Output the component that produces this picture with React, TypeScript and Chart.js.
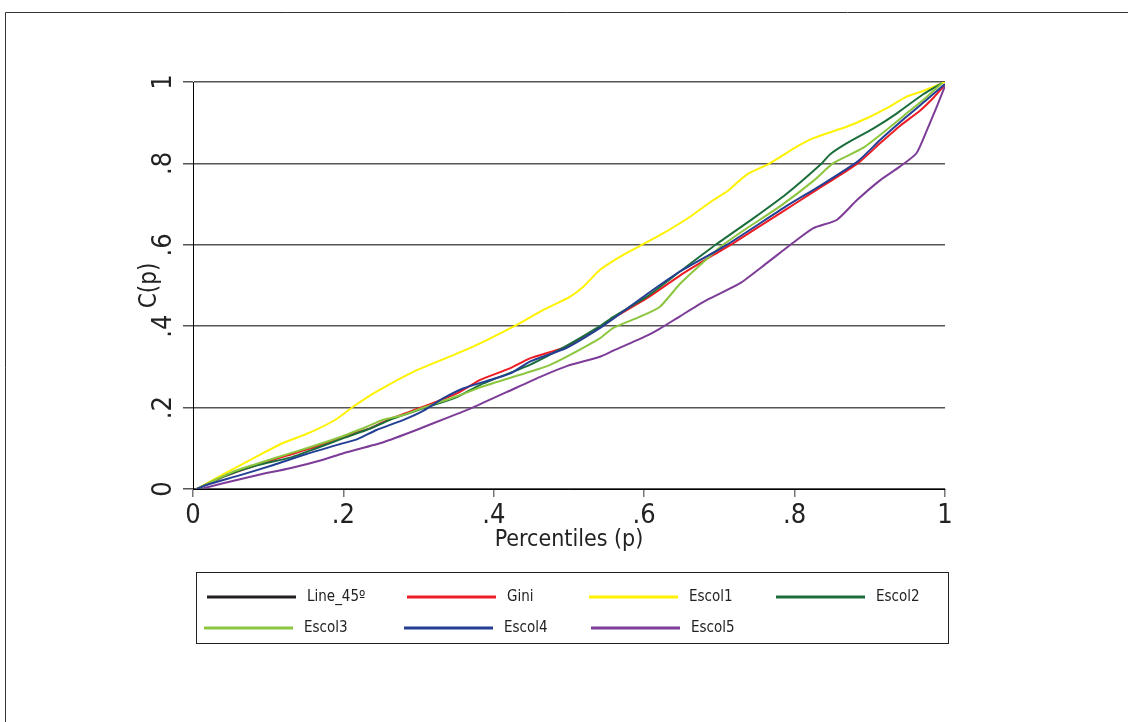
import React, { useEffect, useRef } from "react";
import { Chart, registerables } from "chart.js";

Chart.register(...registerables);

const FONT = '"Liberation Sans Narrow", "Arial Narrow", "DejaVu Sans Condensed", sans-serif';

const seriesLabels = ["Line_45º", "Gini", "Escol1", "Escol2", "Escol3", "Escol4", "Escol5"];
const seriesColors = ["#231f20", "#ed1c24", "#fff200", "#1b6e3c", "#8cc63f", "#233f94", "#7d3c98"];

const xTickValues = [0, 0.2, 0.4, 0.6, 0.8, 1];
const xTickLabels = ["0", ".2", ".4", ".6", ".8", "1"];
const yTickValues = [0, 0.2, 0.4, 0.6, 0.8, 1];
const yTickLabels = ["0", ".2", ".4", ".6", ".8", "1"];

const line45P: number[] = [];
const line45C: number[] = [];

const giniP = [0.005, 0.04, 0.085, 0.125, 0.164, 0.2, 0.235, 0.262, 0.306, 0.351, 0.382, 0.422, 0.448, 0.497, 0.541, 0.559, 0.603, 0.648, 0.692, 0.715, 0.781, 0.825, 0.884, 0.914, 0.94, 0.967, 0.985, 1];
const giniC = [0, 0.03, 0.059, 0.082, 0.104, 0.129, 0.149, 0.172, 0.202, 0.235, 0.268, 0.297, 0.321, 0.35, 0.398, 0.42, 0.468, 0.525, 0.575, 0.6, 0.678, 0.73, 0.8, 0.85, 0.892, 0.93, 0.962, 0.993];

const escol1P = [0.005, 0.04, 0.085, 0.116, 0.156, 0.191, 0.213, 0.244, 0.293, 0.368, 0.426, 0.466, 0.501, 0.519, 0.541, 0.568, 0.594, 0.625, 0.661, 0.692, 0.71, 0.736, 0.767, 0.803, 0.825, 0.869, 0.896, 0.922, 0.949, 0.971, 1];
const escol1C = [0, 0.036, 0.08, 0.11, 0.139, 0.172, 0.202, 0.239, 0.288, 0.346, 0.399, 0.44, 0.472, 0.497, 0.538, 0.571, 0.597, 0.628, 0.669, 0.71, 0.731, 0.772, 0.8, 0.841, 0.862, 0.89, 0.911, 0.935, 0.964, 0.978, 1];

const escol2P = [0.005, 0.04, 0.085, 0.129, 0.164, 0.2, 0.235, 0.262, 0.306, 0.35, 0.382, 0.448, 0.497, 0.541, 0.559, 0.603, 0.648, 0.695, 0.745, 0.789, 0.836, 0.847, 0.869, 0.905, 0.936, 0.971, 0.996];
const escol2C = [0, 0.03, 0.058, 0.077, 0.1, 0.125, 0.148, 0.17, 0.198, 0.225, 0.256, 0.305, 0.352, 0.4, 0.423, 0.472, 0.535, 0.6, 0.665, 0.725, 0.8, 0.822, 0.849, 0.886, 0.923, 0.97, 0.997];

const escol3P = [0.005, 0.054, 0.107, 0.151, 0.195, 0.231, 0.253, 0.28, 0.306, 0.351, 0.382, 0.448, 0.475, 0.497, 0.541, 0.559, 0.594, 0.621, 0.648, 0.692, 0.705, 0.736, 0.781, 0.825, 0.851, 0.891, 0.922, 0.949, 0.976, 0.996];
const escol3C = [0, 0.043, 0.075, 0.1, 0.127, 0.153, 0.17, 0.182, 0.2, 0.228, 0.25, 0.288, 0.305, 0.325, 0.37, 0.396, 0.423, 0.448, 0.505, 0.58, 0.6, 0.64, 0.695, 0.757, 0.8, 0.838, 0.882, 0.923, 0.964, 0.997];

const escol4P = [0.005, 0.018, 0.063, 0.107, 0.151, 0.195, 0.218, 0.244, 0.28, 0.306, 0.333, 0.359, 0.395, 0.422, 0.448, 0.497, 0.545, 0.603, 0.648, 0.71, 0.789, 0.834, 0.884, 0.914, 0.949, 0.976, 1];
const escol4C = [0, 0.01, 0.034, 0.059, 0.086, 0.11, 0.122, 0.145, 0.17, 0.192, 0.223, 0.247, 0.268, 0.284, 0.313, 0.347, 0.4, 0.478, 0.535, 0.6, 0.695, 0.745, 0.805, 0.858, 0.915, 0.957, 0.995];

const escol5P = [0.014, 0.04, 0.085, 0.129, 0.173, 0.2, 0.253, 0.297, 0.342, 0.368, 0.417, 0.461, 0.497, 0.541, 0.559, 0.603, 0.621, 0.648, 0.683, 0.727, 0.763, 0.798, 0.825, 0.856, 0.883, 0.914, 0.94, 0.962, 0.976, 0.989, 1];
const escol5C = [0.002, 0.014, 0.034, 0.051, 0.072, 0.088, 0.115, 0.145, 0.178, 0.197, 0.238, 0.275, 0.302, 0.325, 0.34, 0.376, 0.394, 0.425, 0.464, 0.505, 0.555, 0.605, 0.641, 0.661, 0.71, 0.759, 0.792, 0.825, 0.882, 0.939, 0.99];

const seriesP = [line45P, giniP, escol1P, escol2P, escol3P, escol4P, escol5P];
const seriesC = [line45C, giniC, escol1C, escol2C, escol3C, escol4C, escol5C];

// legend slot layout (x of line start per slot, row index)
const legendLineX = [207, 407, 589, 776, 204, 404, 591];
const legendRow = [0, 0, 0, 0, 1, 1, 1];

const framePlugin = {
  id: "frameAndLegend",
  afterDraw(chart: any) {
    const ctx = chart.ctx;
    ctx.save();
    // outer frame
    ctx.strokeStyle = "#333";
    ctx.lineWidth = 1;
    ctx.beginPath();
    ctx.moveTo(5.5, 722);
    ctx.lineTo(5.5, 12.5);
    ctx.lineTo(1128, 12.5);
    ctx.stroke();
    // legend box
    const bx = 196, by = 572, bw = 752, bh = 71;
    ctx.strokeStyle = "#222";
    ctx.lineWidth = 1;
    ctx.strokeRect(bx + 0.5, by + 0.5, bw, bh);
    const rowY = [597, 628];
    ctx.font = `15px ${FONT}`;
    ctx.textBaseline = "middle";
    ctx.textAlign = "left";
    chart.data.datasets.forEach((ds: any, i: number) => {
      const lx = legendLineX[i];
      const ly = rowY[legendRow[i]];
      ctx.strokeStyle = ds.borderColor;
      ctx.lineWidth = 3;
      ctx.beginPath();
      ctx.moveTo(lx, ly);
      ctx.lineTo(lx + 89, ly);
      ctx.stroke();
      ctx.fillStyle = "#222";
      ctx.fillText(ds.label, lx + 100, ly);
    });
    ctx.restore();
  },
};

export default function App() {
  const canvasRef = useRef<HTMLCanvasElement | null>(null);

  useEffect(() => {
    document.body.style.margin = "0";
    const canvas = canvasRef.current;
    if (!canvas) return;
    const datasets = seriesLabels.map((label, i) => ({
      label,
      data: seriesP[i].map((p, j) => ({ x: p, y: seriesC[i][j] })),
      borderColor: seriesColors[i],
      backgroundColor: seriesColors[i],
      borderWidth: 2,
      pointRadius: 0,
      tension: 0.2,
      fill: false,
      order: seriesLabels.length - i,
    }));

    const chart = new Chart(canvas, {
      type: "line",
      data: { datasets },
      plugins: [framePlugin],
      options: {
        responsive: false,
        animation: false,
        devicePixelRatio: 1,
        layout: { padding: { left: 130, top: 82, right: 183, bottom: 163 } },
        plugins: { legend: { display: false }, tooltip: { enabled: false } },
        scales: {
          x: {
            type: "linear",
            min: 0,
            max: 1,
            afterBuildTicks: (s: any) => {
              s.ticks = xTickValues.map((v) => ({ value: v }));
            },
            afterFit: (s: any) => {
              s.height = 70;
            },
            grid: { drawOnChartArea: false, drawTicks: true, tickLength: 8, color: "#777", lineWidth: 1.5 },
            border: { display: true, color: "#000", width: 1 },
            ticks: {
              autoSkip: false,
              maxRotation: 0,
              padding: 3,
              color: "#222",
              font: { family: FONT, size: 27 },
              callback: (_v: any, i: number) => xTickLabels[i],
            },
            title: {
              display: true,
              text: "Percentiles (p)",
              color: "#222",
              font: { family: FONT, size: 23 },
              padding: { top: 0, bottom: 5 },
            },
          },
          y: {
            type: "linear",
            min: 0,
            max: 1,
            afterBuildTicks: (s: any) => {
              s.ticks = yTickValues.map((v) => ({ value: v }));
            },
            afterFit: (s: any) => {
              s.width = 63;
            },
            grid: { color: "#555", lineWidth: 1.5, tickLength: 10 },
            border: { display: true, color: "#000", width: 1 },
            ticks: {
              autoSkip: false,
              minRotation: 90,
              maxRotation: 90,
              crossAlign: "center",
              padding: 7,
              color: "#222",
              font: { family: FONT, size: 27 },
              callback: (_v: any, i: number) => yTickLabels[i],
            },
            title: {
              display: true,
              text: "C(p)",
              color: "#222",
              font: { family: FONT, size: 24 },
              padding: { top: 5, bottom: 0 },
            },
          },
        },
      } as any,
    });
    return () => chart.destroy();
  }, []);

  return (
    <div style={{ position: "relative", width: 1128, height: 722, background: "#fff" }}>
      <canvas ref={canvasRef} width={1128} height={722} style={{ display: "block" }} />
    </div>
  );
}
